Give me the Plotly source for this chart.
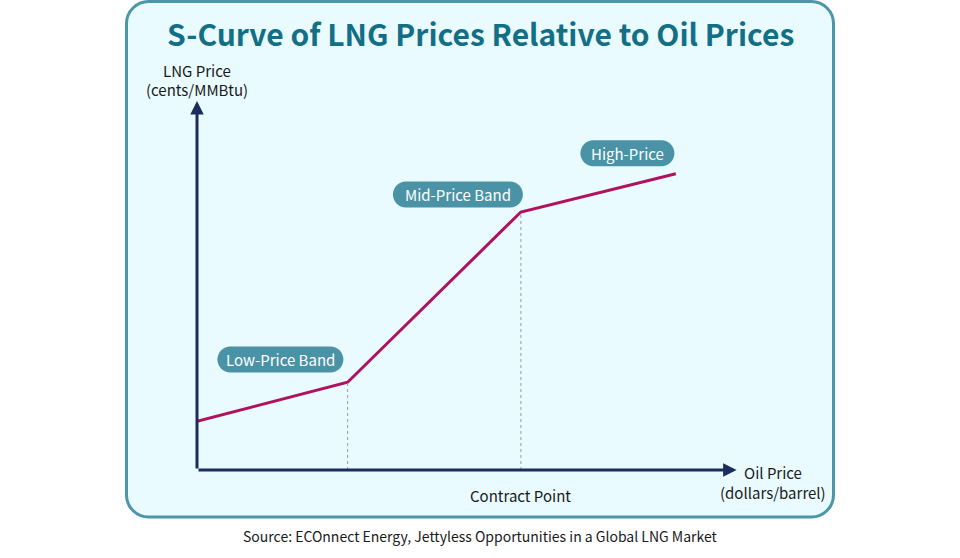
import plotly.graph_objects as go

# S-curve (arbitrary 0-100 units on both axes)
oil_price = [0, 28, 60.2, 89]
lng_price = [13, 23.4, 68.8, 79]
contract_points = [28, 60.2]

band_labels = ["Low-Price Band", "Mid-Price Band", "High-Price"]
band_x = [15.5, 48.5, 80]
band_y = [29.5, 73.5, 84.5]
band_w = [126, 130, 94]

W, H = 960, 558
L, R, T, B = 197, 735, 95, 470  # plot area in pixels

PANEL_FILL = "#e9fbfe"
PANEL_LINE = "#4b97a9"
TITLE_COL = "#126f86"
CURVE_COL = "#b0125f"
AXIS_COL = "#1c2d5c"
BOX_COL = "#4a93a6"
FONT = "Noto Sans CJK KR"


def px(x):
    return (x - L) / (R - L)


def py(y):
    return (B - y) / (B - T)


def rounded(x0, y0, x1, y1, r):
    # rounded rect path in paper coords from pixel box
    k = 0.45  # cubic handle so the corners look circular
    pts = [
        f"M {px(x0 + r)},{py(y0)}",
        f"L {px(x1 - r)},{py(y0)}",
        f"C {px(x1 - r * k)},{py(y0)} {px(x1)},{py(y0 + r * k)} {px(x1)},{py(y0 + r)}",
        f"L {px(x1)},{py(y1 - r)}",
        f"C {px(x1)},{py(y1 - r * k)} {px(x1 - r * k)},{py(y1)} {px(x1 - r)},{py(y1)}",
        f"L {px(x0 + r)},{py(y1)}",
        f"C {px(x0 + r * k)},{py(y1)} {px(x0)},{py(y1 - r * k)} {px(x0)},{py(y1 - r)}",
        f"L {px(x0)},{py(y0 + r)}",
        f"C {px(x0)},{py(y0 + r * k)} {px(x0 + r * k)},{py(y0)} {px(x0 + r)},{py(y0)}",
        "Z",
    ]
    return " ".join(pts)


fig = go.Figure()

fig.add_trace(go.Scatter(
    x=oil_price, y=lng_price, mode="lines",
    line=dict(color=CURVE_COL, width=3),
    hoverinfo="skip", showlegend=False,
))

shapes = [
    dict(type="path", xref="paper", yref="paper", layer="below",
         path=rounded(126.5, 1.5, 833.5, 517, 22),
         fillcolor=PANEL_FILL, line=dict(color=PANEL_LINE, width=3)),
]
for i, cp in enumerate(contract_points):
    shapes.append(dict(type="line", xref="x", yref="y",
                       x0=cp, x1=cp, y0=0, y1=lng_price[i + 1],
                       line=dict(color="#9a9a9a", width=1, dash="3px,3px")))

annotations = []
for lab, bx, by, bw in zip(band_labels, band_x, band_y, band_w):
    cx = L + bx / 100 * (R - L)
    cy = B - by / 100 * (B - T)
    shapes.append(dict(type="path", xref="paper", yref="paper",
                       path=rounded(cx - bw / 2, cy - 13, cx + bw / 2, cy + 13, 13),
                       fillcolor=BOX_COL, line=dict(width=0)))
    annotations.append(dict(x=bx, y=by, xref="x", yref="y", text=lab,
                            showarrow=False, xanchor="center", yanchor="middle",
                            font=dict(family=FONT, size=15, color="white")))

# axes with arrow heads
annotations.append(dict(x=100.3, y=0, ax=0, ay=0, xref="x", yref="y",
                        axref="x", ayref="y", text="", showarrow=True,
                        arrowhead=2, arrowsize=0.9, arrowwidth=3,
                        arrowcolor=AXIS_COL))
annotations.append(dict(x=0, y=98.4, ax=0, ay=0, xref="x", yref="y",
                        axref="x", ayref="y", text="", showarrow=True,
                        arrowhead=2, arrowsize=0.9, arrowwidth=3,
                        arrowcolor=AXIS_COL))

txt = dict(family=FONT, size=15, color="#1a1a1a")


def label(x, y, text, font=txt, xref="paper"):
    return dict(x=x, y=py(y), xref=xref, yref="paper", text=text,
                showarrow=False, xanchor="center", yanchor="middle", font=font)


annotations += [
    label(px(480), 33,
          "<b>S-Curve of LNG Prices Relative to Oil Prices</b>",
          font=dict(family=FONT, size=30, color=TITLE_COL)),
    label(px(197), 70, "LNG Price"),
    label(px(197), 89, "(cents/MMBtu)"),
    label(px(773), 472, "Oil Price"),
    label(px(773), 493, "(dollars/barrel)"),
    label(contract_points[1], 495, "Contract Point", xref="x"),
    label(px(480), 536,
          "Source: ECOnnect Energy, Jettyless Opportunities in a Global LNG Market",
          font=dict(family=FONT, size=14, color="#1a1a1a")),
]

fig.update_layout(
    width=W, height=H,
    margin=dict(l=L, r=W - R, t=T, b=H - B),
    paper_bgcolor="white", plot_bgcolor="rgba(0,0,0,0)",
    xaxis=dict(range=[0, 100], visible=False, fixedrange=True),
    yaxis=dict(range=[0, 100], visible=False, fixedrange=True),
    shapes=shapes, annotations=annotations,
)

fig.write_html("out.html", config={"displayModeBar": False},
               post_script="document.body.style.margin='0px';")
